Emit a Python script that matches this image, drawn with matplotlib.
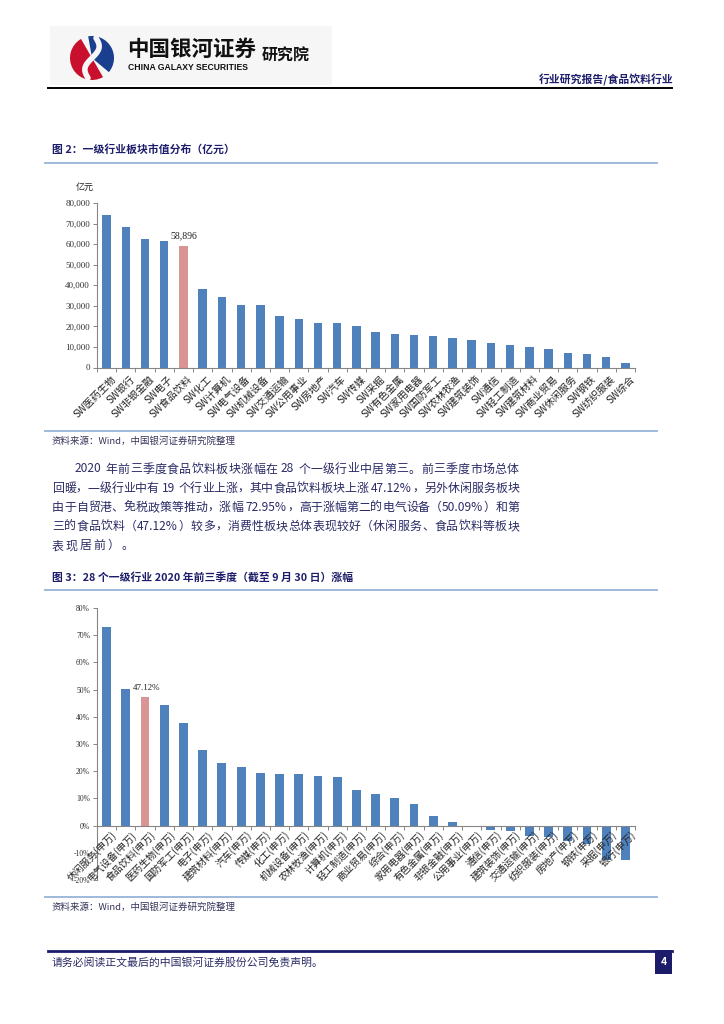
import matplotlib
matplotlib.use("Agg")
import matplotlib.pyplot as plt
from matplotlib.patches import Rectangle, Wedge
import numpy as np

plt.rcParams["font.family"] = ["Noto Sans CJK SC", "DejaVu Sans"]

W, H = 724, 1024
NAVY = "#1c1c6b"
TEXT = "#2b2b66"
BLUE = "#4f81bd"
PINK = "#d99594"
RULE = "#95b3d7"
AXIS = "#868686"

# figure 2: market value by level-1 industry (100m yuan)
cats1 = ["SW医药生物", "SW银行", "SW非银金融", "SW电子", "SW食品饮料", "SW化工",
         "SW计算机", "SW电气设备", "SW机械设备", "SW交通运输", "SW公用事业",
         "SW房地产", "SW汽车", "SW传媒", "SW采掘", "SW有色金属", "SW家用电器",
         "SW国防军工", "SW农林牧渔", "SW建筑装饰", "SW通信", "SW轻工制造",
         "SW建筑材料", "SW商业贸易", "SW休闲服务", "SW钢铁", "SW纺织服装", "SW综合"]
vals1 = [74400, 68200, 62400, 61500, 58896, 38200, 34300, 30400, 30300, 25100,
         23700, 21800, 21700, 20300, 17300, 16100, 15600, 15400, 14200, 13600,
         11700, 11000, 9800, 8900, 6900, 6700, 4900, 2300]
ticks1 = [0, 10000, 20000, 30000, 40000, 50000, 60000, 70000, 80000]

# figure 3: 2020 Q1-Q3 returns
cats2 = ["休闲服务(申万)", "电气设备(申万)", "食品饮料(申万)", "医药生物(申万)",
         "国防军工(申万)", "电子(申万)", "建筑材料(申万)", "汽车(申万)", "传媒(申万)",
         "化工(申万)", "机械设备(申万)", "农林牧渔(申万)", "计算机(申万)",
         "轻工制造(申万)", "商业贸易(申万)", "综合(申万)", "家用电器(申万)",
         "有色金属(申万)", "非银金融(申万)", "公用事业(申万)", "通信(申万)",
         "建筑装饰(申万)", "交通运输(申万)", "纺织服装(申万)", "房地产(申万)",
         "钢铁(申万)", "采掘(申万)", "银行(申万)"]
vals2 = [72.95, 50.09, 47.12, 44.4, 37.7, 27.8, 23.0, 21.6, 19.4, 19.0, 18.9, 18.2,
         17.9, 13.1, 11.6, 10.0, 7.8, 3.5, 1.2, -0.4, -1.6, -2.0, -3.7, -4.2, -5.5,
         -6.6, -12.5, -12.7]
ticks2 = [-20, -10, 0, 10, 20, 30, 40, 50, 60, 70, 80]

para = [
    "　　2020 年前三季度食品饮料板块涨幅在 28 个一级行业中居第三。前三季度市场总体",
    "回暖，一级行业中有 19 个行业上涨，其中食品饮料板块上涨 47.12%，另外休闲服务板块",
    "由于自贸港、免税政策等推动，涨幅 72.95%，高于涨幅第二的电气设备（50.09%）和第",
    "三的食品饮料（47.12%）较多，消费性板块总体表现较好（休闲服务、食品饮料等板块",
    "表现居前）。",
]

fig = plt.figure(figsize=(W / 100, H / 100), dpi=100)
fig.patch.set_facecolor("white")
page = fig.add_axes([0, 0, 1, 1])
page.set_xlim(0, W)
page.set_ylim(H, 0)
page.axis("off")

# header / logo
page.add_patch(Rectangle((50, 26), 282, 59, facecolor="#f6f6f6", edgecolor="none"))
page.add_patch(Wedge((92, 58), 22, 60, 240, facecolor="#c8102e", edgecolor="none"))
page.add_patch(Wedge((92, 58), 22, -100, 40, facecolor="#1b3f8f", edgecolor="none"))
s = np.linspace(-1, 1, 60)
page.plot(92 + 5 * np.sin(s * np.pi) + 4 * s, 58 - 20 * s, color="#f6f6f6",
          lw=4, solid_capstyle="round")
page.text(127, 49, "中国银河证券", fontsize=15.5, fontweight="bold", color="#111111",
          va="center", ha="left")
page.text(262, 56, "研究院", fontsize=11.5, fontweight="bold", color="#111111",
          va="center", ha="left")
page.text(128, 67, "CHINA GALAXY SECURITIES", fontsize=6.2, fontweight="bold",
          color="#111111", va="center", ha="left", family="Liberation Sans")
page.text(674, 80, "行业研究报告/食品饮料行业", fontsize=7.8, fontweight="bold",
          color=NAVY, va="center", ha="right")
page.plot([48, 672], [87.5, 87.5], color="black", lw=1.4)

# figure titles and rules
page.text(52, 149, "图 2：一级行业板块市值分布（亿元）", fontsize=7.8, fontweight="bold",
          color=NAVY, va="center", ha="left")
page.plot([45, 657], [163, 163], color=RULE, lw=1.3)
page.plot([45, 657], [431, 431], color=RULE, lw=1.3)
page.text(52, 441, "资料来源：Wind，中国银河证券研究院整理", fontsize=6.8, color="#33335a",
          va="center", ha="left", style="italic")

# paragraph, justified by spreading characters
renderer = fig.canvas.get_renderer()
left, right = 52, 519
for k, line in enumerate(para):
    y = 469 + 19.2 * k
    tokens = []
    buf = ""
    for ch in line:
        if ord(ch) < 128 and ch != " ":
            buf += ch
        else:
            if buf:
                tokens.append(buf)
                buf = ""
            tokens.append(ch)
    if buf:
        tokens.append(buf)
    items = [page.text(0, y, t, fontsize=8.6, color=TEXT, va="center", ha="left")
             for t in tokens]
    widths = []
    for t, it in zip(tokens, items):
        if t == " ":
            widths.append(3.0)
        elif t == "　":
            widths.append(11.0)
        else:
            widths.append(it.get_window_extent(renderer).width)
    total = sum(widths)
    last = k == len(para) - 1
    gap = 2.0 if last or len(tokens) < 2 else (right - left - total) / (len(tokens) - 1)
    x = left
    for it, w in zip(items, widths):
        it.set_x(x)
        x += w + gap

page.text(52, 577, "图 3：28 个一级行业 2020 年前三季度（截至 9 月 30 日）涨幅", fontsize=7.8,
          fontweight="bold", color=NAVY, va="center", ha="left")
page.plot([45, 657], [590, 590], color=RULE, lw=1.3)
page.plot([45, 657], [897, 897], color=RULE, lw=1.3)
page.text(52, 907, "资料来源：Wind，中国银河证券研究院整理", fontsize=6.8, color="#33335a",
          va="center", ha="left", style="italic")

# footer
page.plot([48, 672], [950.5, 950.5], color=NAVY, lw=2)
page.add_patch(Rectangle((655, 950), 17, 24, facecolor=NAVY, edgecolor="none"))
page.text(663.5, 962, "4", fontsize=7.5, fontweight="bold", color="white",
          ha="center", va="center")
page.text(52, 962, "请务必阅读正文最后的中国银河证券股份公司免责声明。", fontsize=7.8,
          color=TEXT, va="center", ha="left")


def style_axes(ax, n):
    for sp in ("top", "right"):
        ax.spines[sp].set_visible(False)
    for sp in ("left", "bottom"):
        ax.spines[sp].set_color(AXIS)
        ax.spines[sp].set_linewidth(0.8)
    ax.set_xlim(-0.5, n - 0.5)
    ax.set_xticks(np.arange(-0.5, n, 1.0))
    ax.set_xticklabels([])
    ax.tick_params(axis="x", length=3, color=AXIS, width=0.7, direction="out")
    ax.tick_params(axis="y", length=3, color=AXIS, width=0.7, direction="out",
                   labelcolor="#333333", pad=2)
    ax.patch.set_alpha(0)


# chart 1
ax1 = fig.add_axes([97 / W, 1 - 367.5 / H, 538 / W, 164.5 / H])
x1 = np.arange(len(cats1))
ax1.bar(x1, vals1, width=0.44, color=[PINK if i == 4 else BLUE for i in x1])
ax1.set_ylim(0, 80000)
ax1.set_yticks(ticks1)
ax1.set_yticklabels([f"{t:,}" for t in ticks1], fontsize=6.5, family="Liberation Serif")
style_axes(ax1, len(cats1))
for i, c in enumerate(cats1):
    ax1.text(i + 0.2, -3000, c, rotation=45, rotation_mode="anchor", ha="right",
             va="top", fontsize=7.2, color="#222222")
ax1.text(4, vals1[4] + 3000, f"{vals1[4]:,}", ha="center", va="bottom", fontsize=7,
         family="Liberation Serif", color="#222222")
ax1.text(-1.6, 87500, "亿元", ha="left", va="center", fontsize=6.5, color="#222222")

# chart 2
ax2 = fig.add_axes([97 / W, 1 - 880 / H, 538 / W, 272 / H])
x2 = np.arange(len(cats2))
ax2.bar(x2, vals2, width=0.46, color=[PINK if i == 2 else BLUE for i in x2])
ax2.set_ylim(-20, 80)
ax2.set_yticks(ticks2)
ax2.set_yticklabels([f"{t}%" for t in ticks2], fontsize=5.5, family="Liberation Serif")
style_axes(ax2, len(cats2))
ax2.spines["bottom"].set_position(("data", 0))
for i, c in enumerate(cats2):
    ax2.text(i + 0.25, -1.2, c, rotation=45, rotation_mode="anchor", ha="right",
             va="top", fontsize=7.0, color="#222222")
ax2.text(2.1, vals2[2] + 2.0, f"{vals2[2]:.2f}%", ha="center", va="bottom",
         fontsize=6.5, family="Liberation Serif", color="#222222")

fig.savefig("out.png", dpi=100, facecolor="white")
